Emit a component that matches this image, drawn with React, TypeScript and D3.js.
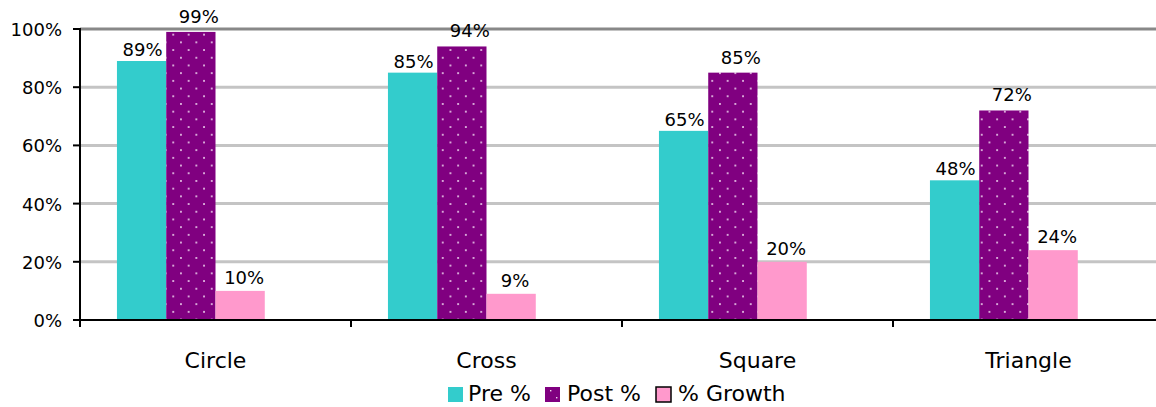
import React from "react";
import * as d3 from "d3";

const categories = ["Circle", "Cross", "Square", "Triangle"];
const seriesNames = ["Pre %", "Post %", "% Growth"];
const preValues = [89, 85, 65, 48];
const postValues = [99, 94, 85, 72];
const growthValues = [10, 9, 20, 24];
const yTicks = [0, 20, 40, 60, 80, 100];

const W = 1156;
const H = 407;
const FONT = "'DejaVu Sans', sans-serif";

export default function App() {
  const x = d3.scaleBand<string>().domain(categories).range([80, 1164]).paddingInner(0).paddingOuter(0);
  const y = d3.scaleLinear().domain([0, 100]).range([320, 29]);
  // Excel-style gap width ~150% with 4 slots (last slot empty)
  const barW = x.bandwidth() / (4 + 1.5);
  const offset = (1.5 * barW) / 2;
  const series = [
    { name: seriesNames[0], values: preValues, fill: "#33CCCC", ldx: 1, ldy: 5 },
    { name: seriesNames[1], values: postValues, fill: "url(#dots)", ldx: 8, ldy: 9 },
    { name: seriesNames[2], values: growthValues, fill: "#FF99CC", ldx: 4, ldy: 7 },
  ];
  const legendItems = [
    { name: seriesNames[0], x: 448, tx: 468, fill: "#33CCCC", stroke: "none" },
    { name: seriesNames[1], x: 545, tx: 567, fill: "url(#dotsL)", stroke: "none" },
    { name: seriesNames[2], x: 656, tx: 678, fill: "#FF99CC", stroke: "#000" },
  ];
  return (
    <svg
      width={W}
      height={H}
      style={{ position: "fixed", left: 0, top: 0, background: "#fff" }}
      fontFamily={FONT}
    >
      <defs>
        <pattern id="dots" width={15.4} height={15.4} patternUnits="userSpaceOnUse">
          <rect width={15.4} height={15.4} fill="#800080" />
          <rect x={3} y={3} width={1.7} height={1.7} fill="#f0d8f0" />
          <rect x={10.7} y={10.7} width={1.7} height={1.7} fill="#f0d8f0" />
        </pattern>
        <pattern id="dotsL" width={14} height={14} patternUnits="userSpaceOnUse" x={545} y={387}>
          <rect width={14} height={14} fill="#800080" />
          <rect x={5} y={3} width={1.4} height={1.4} fill="#f0d8f0" />
          <rect x={11} y={10} width={1.4} height={1.4} fill="#f0d8f0" />
        </pattern>
      </defs>
      {yTicks.slice(1).map((t) => (
        <line
          key={t}
          x1={80}
          x2={W}
          y1={y(t)}
          y2={y(t)}
          stroke={t === 100 ? "#888" : "#c4c4c4"}
          strokeWidth={3}
        />
      ))}
      {categories.map((c, i) =>
        series.map((s, j) => {
          const bx = (x(c) as number) + offset + j * barW;
          const v = s.values[i];
          return (
            <g key={c + s.name}>
              <rect x={bx} y={y(v)} width={barW} height={y(0) - y(v)} fill={s.fill} />
              <text
                x={bx + barW / 2 + s.ldx}
                y={y(v) - s.ldy}
                textAnchor="middle"
                fontSize={18}
                fill="#000"
              >
                {v}%
              </text>
            </g>
          );
        })
      )}
      <line x1={80} x2={80} y1={y(100) - 1} y2={y(0) + 1} stroke="#000" strokeWidth={2} />
      {yTicks.map((t) => (
        <g key={t}>
          <line x1={73} x2={80} y1={y(t)} y2={y(t)} stroke="#000" strokeWidth={2} />
          <text x={62} y={y(t) + 7} textAnchor="end" fontSize={18} fill="#000">
            {t}%
          </text>
        </g>
      ))}
      <line x1={73} x2={W} y1={y(0)} y2={y(0)} stroke="#000" strokeWidth={2} />
      {categories.map((c) => (
        <g key={c}>
          <line
            x1={x(c) as number}
            x2={x(c) as number}
            y1={y(0)}
            y2={y(0) + 7}
            stroke="#000"
            strokeWidth={2}
          />
          <text
            x={(x(c) as number) + x.bandwidth() / 2}
            y={368}
            textAnchor="middle"
            fontSize={22}
            fill="#000"
          >
            {c}
          </text>
        </g>
      ))}
      {legendItems.map((l) => (
        <g key={l.name}>
          <rect
            x={l.x}
            y={387}
            width={15}
            height={15}
            fill={l.fill}
            stroke={l.stroke}
            strokeWidth={l.stroke === "none" ? 0 : 1.5}
          />
          <text x={l.tx} y={401} fontSize={22} fill="#000">
            {l.name}
          </text>
        </g>
      ))}
    </svg>
  );
}
